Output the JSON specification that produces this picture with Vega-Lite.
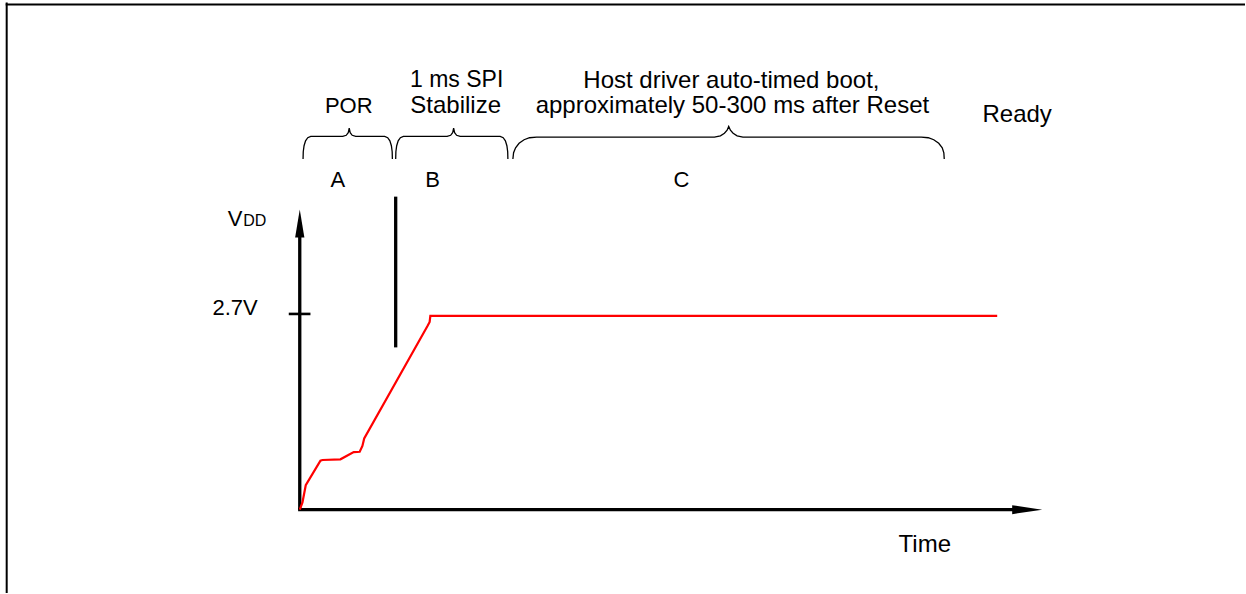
{
  "$schema": "https://vega.github.io/schema/vega-lite/v6.json",
  "width": 1246,
  "height": 594,
  "autosize": {"type": "fit", "contains": "padding"},
  "padding": 0,
  "background": "white",
  "config": {"view": {"stroke": null}},
  "datasets": {
    "frame": [
      {"t": -293.3, "v": 7.05, "t2": -293.3, "v2": -1.159},
      {"t": -294.3, "v": 7.024, "t2": 946, "v2": 7.024}
    ],
    "axes": [
      {"t": 0, "v": 0, "t2": 0, "v2": 3.95},
      {"t": -1.65, "v": 0, "t2": 715, "v2": 0},
      {"t": 96, "v": 4.352, "t2": 96, "v2": 2.256}
    ],
    "tick": [
      {"t": -11, "v": 2.721, "t2": 10.7, "v2": 2.721}
    ],
    "arrowUp": [{"t": 0, "v": 3.977}],
    "arrowRight": [{"t": 728, "v": 0}],
    "vdd": [
      {"i": 0, "t": 0, "v": 0},
      {"i": 1, "t": 2.7, "v": 0.10},
      {"i": 2, "t": 6, "v": 0.34},
      {"i": 3, "t": 20.7, "v": 0.68},
      {"i": 4, "t": 22.7, "v": 0.69},
      {"i": 5, "t": 40.7, "v": 0.70},
      {"i": 6, "t": 54, "v": 0.80},
      {"i": 7, "t": 60, "v": 0.805},
      {"i": 8, "t": 62.7, "v": 0.886},
      {"i": 9, "t": 64.5, "v": 0.99},
      {"i": 10, "t": 127.7, "v": 2.55},
      {"i": 11, "t": 130, "v": 2.61},
      {"i": 12, "t": 130.7, "v": 2.693},
      {"i": 13, "t": 698, "v": 2.693}
    ],
    "braces": [
      {"b": "A", "i": 0, "t": 3.3, "v": 4.875},
      {"b": "A", "i": 1, "t": 3.5, "v": 4.976},
      {"b": "A", "i": 2, "t": 4.3, "v": 5.060},
      {"b": "A", "i": 3, "t": 5.8, "v": 5.129},
      {"b": "A", "i": 4, "t": 8, "v": 5.171},
      {"b": "A", "i": 5, "t": 11, "v": 5.189},
      {"b": "A", "i": 6, "t": 43, "v": 5.189},
      {"b": "A", "i": 7, "t": 46.5, "v": 5.205},
      {"b": "A", "i": 8, "t": 48.5, "v": 5.240},
      {"b": "A", "i": 9, "t": 49.5, "v": 5.303},
      {"b": "A", "i": 10, "t": 50.5, "v": 5.240},
      {"b": "A", "i": 11, "t": 52.5, "v": 5.205},
      {"b": "A", "i": 12, "t": 56, "v": 5.189},
      {"b": "A", "i": 13, "t": 85, "v": 5.189},
      {"b": "A", "i": 14, "t": 88, "v": 5.171},
      {"b": "A", "i": 15, "t": 90.2, "v": 5.129},
      {"b": "A", "i": 16, "t": 91.7, "v": 5.060},
      {"b": "A", "i": 17, "t": 92.5, "v": 4.976},
      {"b": "A", "i": 18, "t": 92.7, "v": 4.875},
      {"b": "B", "i": 0, "t": 96, "v": 4.875},
      {"b": "B", "i": 1, "t": 96.2, "v": 4.976},
      {"b": "B", "i": 2, "t": 97, "v": 5.060},
      {"b": "B", "i": 3, "t": 98.5, "v": 5.129},
      {"b": "B", "i": 4, "t": 100.7, "v": 5.171},
      {"b": "B", "i": 5, "t": 103.7, "v": 5.189},
      {"b": "B", "i": 6, "t": 147.5, "v": 5.189},
      {"b": "B", "i": 7, "t": 151, "v": 5.205},
      {"b": "B", "i": 8, "t": 153, "v": 5.240},
      {"b": "B", "i": 9, "t": 154, "v": 5.303},
      {"b": "B", "i": 10, "t": 155, "v": 5.240},
      {"b": "B", "i": 11, "t": 157, "v": 5.205},
      {"b": "B", "i": 12, "t": 160.5, "v": 5.189},
      {"b": "B", "i": 13, "t": 200.6, "v": 5.189},
      {"b": "B", "i": 14, "t": 203.6, "v": 5.171},
      {"b": "B", "i": 15, "t": 205.8, "v": 5.129},
      {"b": "B", "i": 16, "t": 207.3, "v": 5.060},
      {"b": "B", "i": 17, "t": 208.1, "v": 4.976},
      {"b": "B", "i": 18, "t": 208.3, "v": 4.875},
      {"b": "C", "i": 0, "t": 213.3, "v": 4.875},
      {"b": "C", "i": 1, "t": 214, "v": 4.962},
      {"b": "C", "i": 2, "t": 216, "v": 5.032},
      {"b": "C", "i": 3, "t": 219.5, "v": 5.094},
      {"b": "C", "i": 4, "t": 224.5, "v": 5.143},
      {"b": "C", "i": 5, "t": 230, "v": 5.171},
      {"b": "C", "i": 6, "t": 237, "v": 5.180},
      {"b": "C", "i": 7, "t": 415, "v": 5.180},
      {"b": "C", "i": 8, "t": 421, "v": 5.198},
      {"b": "C", "i": 9, "t": 425, "v": 5.233},
      {"b": "C", "i": 10, "t": 427.7, "v": 5.275},
      {"b": "C", "i": 11, "t": 429.3, "v": 5.328},
      {"b": "C", "i": 12, "t": 431, "v": 5.275},
      {"b": "C", "i": 13, "t": 433.7, "v": 5.233},
      {"b": "C", "i": 14, "t": 437.7, "v": 5.198},
      {"b": "C", "i": 15, "t": 443.5, "v": 5.180},
      {"b": "C", "i": 16, "t": 622, "v": 5.180},
      {"b": "C", "i": 17, "t": 629, "v": 5.171},
      {"b": "C", "i": 18, "t": 634.5, "v": 5.143},
      {"b": "C", "i": 19, "t": 639.5, "v": 5.094},
      {"b": "C", "i": 20, "t": 643, "v": 5.032},
      {"b": "C", "i": 21, "t": 644.6, "v": 4.962},
      {"b": "C", "i": 22, "t": 645, "v": 4.875}
    ],
    "capsLabels": [
      {"label": "POR", "t": 49, "v": 5.518},
      {"label": "A", "t": 38, "v": 4.491},
      {"label": "B", "t": 133, "v": 4.491},
      {"label": "C", "t": 382, "v": 4.491}
    ],
    "midLabels": [
      {"label": "1 ms SPI", "t": 157, "v": 5.879}
    ],
    "wideLabels": [
      {"label": "Stabilize", "t": 156, "v": 5.518},
      {"label": "Host driver auto-timed boot,", "t": 432, "v": 5.865},
      {"label": "approximately 50-300 ms after Reset", "t": 433, "v": 5.518},
      {"label": "Ready", "t": 718, "v": 5.393},
      {"label": "Time", "t": 625.5, "v": -0.594}
    ],
    "ylabel": [{"label": "2.7V", "t": -42, "v": 2.7}],
    "vLetter": [{"label": "V", "t": -72, "v": 3.949}],
    "ddLetters": [{"label": "DD", "t": -56.5, "v": 3.949}]
  },
  "layer": [
    {
      "data": {"name": "frame"},
      "mark": {"type": "rule", "color": "black", "strokeWidth": 2},
      "encoding": {
        "x": {"field": "t", "type": "quantitative", "scale": {"domain": [-300, 946], "nice": false, "zero": false}, "axis": null},
        "x2": {"field": "t2"},
        "y": {"field": "v", "type": "quantitative", "scale": {"domain": [-1.159, 7.086], "nice": false, "zero": false}, "axis": null},
        "y2": {"field": "v2"}
      }
    },
    {
      "data": {"name": "axes"},
      "mark": {"type": "rule", "color": "black", "strokeWidth": 3.3},
      "encoding": {
        "x": {"field": "t", "type": "quantitative", "axis": null},
        "x2": {"field": "t2"},
        "y": {"field": "v", "type": "quantitative", "axis": null},
        "y2": {"field": "v2"}
      }
    },
    {
      "data": {"name": "tick"},
      "mark": {"type": "rule", "color": "black", "strokeWidth": 2.6},
      "encoding": {
        "x": {"field": "t", "type": "quantitative", "axis": null},
        "x2": {"field": "t2"},
        "y": {"field": "v", "type": "quantitative", "axis": null},
        "y2": {"field": "v2"}
      }
    },
    {
      "data": {"name": "arrowUp"},
      "mark": {"type": "point", "shape": "M0,-1L0.33,1L-0.33,1Z", "size": 784, "filled": true, "color": "black", "opacity": 1, "strokeWidth": 0},
      "encoding": {
        "x": {"field": "t", "type": "quantitative", "axis": null},
        "y": {"field": "v", "type": "quantitative", "axis": null}
      }
    },
    {
      "data": {"name": "arrowRight"},
      "mark": {"type": "point", "shape": "M1,0L-1,-0.3L-1,0.3Z", "size": 900, "filled": true, "color": "black", "opacity": 1, "strokeWidth": 0},
      "encoding": {
        "x": {"field": "t", "type": "quantitative", "axis": null},
        "y": {"field": "v", "type": "quantitative", "axis": null}
      }
    },
    {
      "data": {"name": "braces"},
      "mark": {"type": "line", "color": "black", "strokeWidth": 1.3},
      "encoding": {
        "x": {"field": "t", "type": "quantitative", "axis": null},
        "y": {"field": "v", "type": "quantitative", "axis": null},
        "detail": {"field": "b"},
        "order": {"field": "i", "type": "quantitative"}
      }
    },
    {
      "data": {"name": "vdd"},
      "mark": {"type": "line", "color": "#ff0000", "strokeWidth": 2.2},
      "encoding": {
        "x": {"field": "t", "type": "quantitative", "axis": null},
        "y": {"field": "v", "type": "quantitative", "axis": null},
        "order": {"field": "i", "type": "quantitative"}
      }
    },
    {
      "data": {"name": "capsLabels"},
      "mark": {"type": "text", "font": "Liberation Sans", "fontSize": 22, "align": "center", "baseline": "alphabetic", "color": "black"},
      "encoding": {
        "x": {"field": "t", "type": "quantitative", "axis": null},
        "y": {"field": "v", "type": "quantitative", "axis": null},
        "text": {"field": "label"}
      }
    },
    {
      "data": {"name": "midLabels"},
      "mark": {"type": "text", "font": "Liberation Sans", "fontSize": 23, "align": "center", "baseline": "alphabetic", "color": "black"},
      "encoding": {
        "x": {"field": "t", "type": "quantitative", "axis": null},
        "y": {"field": "v", "type": "quantitative", "axis": null},
        "text": {"field": "label"}
      }
    },
    {
      "data": {"name": "wideLabels"},
      "mark": {"type": "text", "font": "Liberation Sans", "fontSize": 24, "align": "center", "baseline": "alphabetic", "color": "black"},
      "encoding": {
        "x": {"field": "t", "type": "quantitative", "axis": null},
        "y": {"field": "v", "type": "quantitative", "axis": null},
        "text": {"field": "label"}
      }
    },
    {
      "data": {"name": "ylabel"},
      "mark": {"type": "text", "font": "Liberation Sans", "fontSize": 22, "align": "right", "baseline": "alphabetic", "color": "black"},
      "encoding": {
        "x": {"field": "t", "type": "quantitative", "axis": null},
        "y": {"field": "v", "type": "quantitative", "axis": null},
        "text": {"field": "label"}
      }
    },
    {
      "data": {"name": "vLetter"},
      "mark": {"type": "text", "font": "Liberation Sans", "fontSize": 22, "align": "left", "baseline": "alphabetic", "color": "black"},
      "encoding": {
        "x": {"field": "t", "type": "quantitative", "axis": null},
        "y": {"field": "v", "type": "quantitative", "axis": null},
        "text": {"field": "label"}
      }
    },
    {
      "data": {"name": "ddLetters"},
      "mark": {"type": "text", "font": "Liberation Sans", "fontSize": 16, "align": "left", "baseline": "alphabetic", "color": "black"},
      "encoding": {
        "x": {"field": "t", "type": "quantitative", "axis": null},
        "y": {"field": "v", "type": "quantitative", "axis": null},
        "text": {"field": "label"}
      }
    }
  ]
}
